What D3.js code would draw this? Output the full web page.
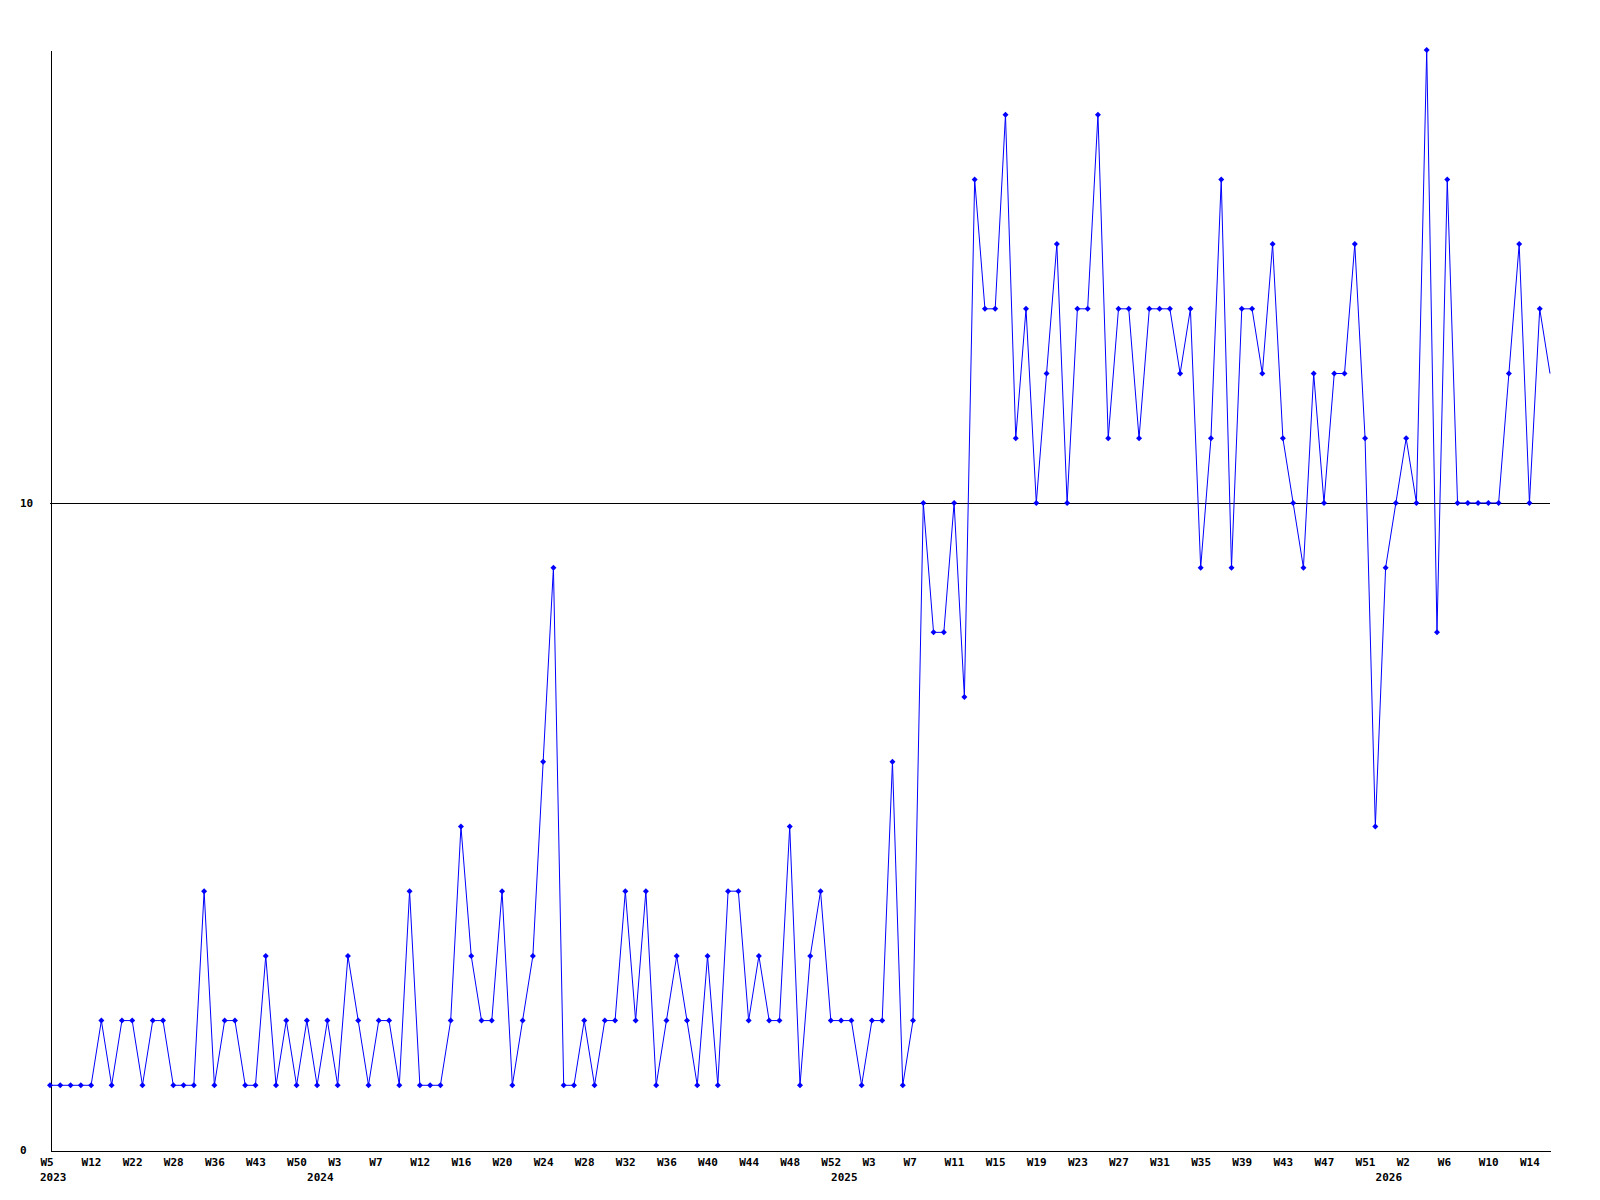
<!DOCTYPE html>
<html>
<head>
<meta charset="utf-8">
<script src="https://cdn.jsdelivr.net/npm/d3@7"></script>
<style>
  html, body { margin: 0; padding: 0; background: #fff; }
  svg { display: block; }
  .tick text { font-family: "DejaVu Sans Mono", monospace; font-weight: bold; font-size: 11px; fill: #000; }
  .yearlbl { font-family: "DejaVu Sans Mono", monospace; font-weight: bold; font-size: 11px; fill: #000; }
</style>
</head>
<body>
<script>
// Weekly values, one per plotted week (evenly spaced, in order)
const values = [
  1,1,1,1,1,2,1,2,2,1,
  2,2,1,1,1,4,1,2,2,1,
  1,3,1,2,1,2,1,2,1,3,
  2,1,2,2,1,4,1,1,1,2,
  5,3,2,2,4,1,2,3,6,9,
  1,1,2,1,2,2,4,2,4,1,
  2,3,2,1,3,1,4,4,2,3,
  2,2,5,1,3,4,2,2,2,1,
  2,2,6,1,2,10,8,8,10,7,
  15,13,13,16,11,13,10,12,14,10,
  13,13,16,11,13,13,11,13,13,13,
  12,13,9,11,15,9,13,13,12,14,
  11,10,9,12,10,12,12,14,11,5,
  9,10,11,10,17,8,15,10,10,10,
  10,10,12,14,10,13,12
];

// Week tick labels, shown every 4th point
const weekTickLabels = [
  "W5","W12","W22","W28","W36","W43","W50",
  "W3","W7","W12","W16","W20","W24","W28","W32","W36","W40","W44","W48","W52",
  "W3","W7","W11","W15","W19","W23","W27","W31","W35","W39","W43","W47","W51",
  "W2","W6","W10","W14"
];
const weekTickStep = 4;

// Year labels and the index of the first point of each year
const yearLabels = ["2023","2024","2025","2026"];
const yearStartIndex = [0, 26, 77, 130];

// Y axis tick values and reference line
const yTickValues = [0, 10];
const refLineValue = 10;
const yMax = 17;

(function () {
const W = 1600, H = 1200;
const mLeft = 50, mRight = 1550, mTop = 50, mBottom = 1150;

const svg = d3.select("body").append("svg").attr("width", W).attr("height", H);

const x = d3.scaleLinear().domain([0, values.length - 1]).range([mLeft, mRight]);
const y = d3.scaleLinear().domain([0, yMax]).range([mBottom, mTop]);

// reference line at 10
svg.append("line")
  .attr("x1", mLeft).attr("x2", mRight)
  .attr("y1", Math.round(y(refLineValue)) + 0.5).attr("y2", Math.round(y(refLineValue)) + 0.5)
  .attr("stroke", "#000").attr("stroke-width", 1).attr("shape-rendering", "crispEdges");

// X axis
const tickIdx = weekTickLabels.map((_, i) => i * weekTickStep);
const xAxis = d3.axisBottom(x)
  .tickValues(tickIdx)
  .tickFormat((d, i) => weekTickLabels[i])
  .tickSize(0).tickSizeOuter(0).tickPadding(0);
const gx = svg.append("g").attr("transform", `translate(0.5,${mBottom + 0.5})`).call(xAxis);
gx.select(".domain").attr("stroke", "#000").attr("shape-rendering", "crispEdges");
gx.selectAll(".tick text")
  .attr("text-anchor", "start").attr("x", -10.5).attr("y", 15).attr("dy", 0);

// year labels
svg.append("g").selectAll("text").data(yearLabels).join("text")
  .attr("class", "yearlbl")
  .attr("x", (d, i) => x(yearStartIndex[i]) - 10)
  .attr("y", mBottom + 30.5)
  .text(d => d);

// Y axis
const yAxis = d3.axisLeft(y).tickValues(yTickValues).tickFormat(d3.format("d"))
  .tickSize(0).tickSizeOuter(0).tickPadding(0);
const gy = svg.append("g").attr("transform", `translate(${mLeft + 0.5},0.5)`).call(yAxis);
gy.select(".domain").attr("stroke", "#000").attr("shape-rendering", "crispEdges");
gy.selectAll(".tick text").attr("text-anchor", "start").attr("x", -30.5).attr("dy", "0.25em");

// line
const line = d3.line().x((d, i) => x(i)).y(d => y(d));
svg.append("path").datum(values)
  .attr("d", line).attr("fill", "none").attr("stroke", "#0000ff").attr("stroke-width", 1);

// markers (none on the final point)
const diamond = "M0,-3L3,0L0,3L-3,0Z";
svg.append("g").selectAll("path").data(values.slice(0, values.length - 1)).join("path")
  .attr("d", diamond)
  .attr("transform", (d, i) => `translate(${x(i)},${y(d)})`)
  .attr("fill", "#0000ff");
})();
</script>
</body>
</html>
